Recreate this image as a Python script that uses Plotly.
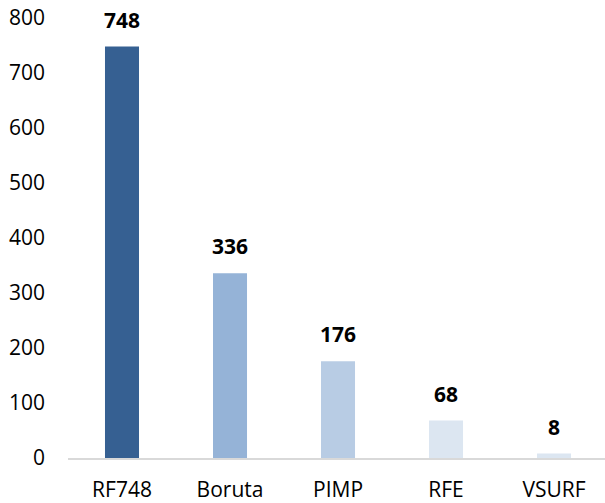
import plotly.graph_objects as go

categories = ["RF748", "Boruta", "PIMP", "RFE", "VSURF"]
values = [748, 336, 176, 68, 8]
colors = ["#366092", "#95B3D7", "#B8CCE4", "#DCE6F1", "#DCE6F1"]
y_ticks = [0, 100, 200, 300, 400, 500, 600, 700, 800]

fig = go.Figure()
fig.add_trace(go.Bar(
    x=list(range(len(categories))), y=values,
    marker=dict(color=colors, line=dict(width=0)),
    width=0.315,
))
for i, v in enumerate(values):
    fig.add_annotation(x=i, y=v, text=f"<b>{v}</b>", showarrow=False,
                       yanchor="bottom", yshift=11,
                       font=dict(family="Open Sans", size=21, color="#000000"))

fig.update_layout(
    width=605, height=503,
    margin=dict(l=68, r=0, t=18, b=45, autoexpand=False),
    paper_bgcolor="white", plot_bgcolor="white",
    showlegend=False,
    font=dict(family="Open Sans", size=21, color="#000000"),
)
fig.update_xaxes(
    tickmode="array", tickvals=list(range(len(categories))), ticktext=categories,
    range=[-0.5, 4.472], showgrid=False, zeroline=False,
    showline=True, linecolor="#D9D9D9", linewidth=2,
    ticks="", ticklabelstandoff=12, automargin=False,
)
fig.update_yaxes(
    range=[0, 800], tickvals=y_ticks, showgrid=False, zeroline=False,
    showline=False, ticks="", ticklabelstandoff=22, automargin=False,
    ticklabeloverflow="allow",
)
fig.write_html("out.html", config={"displayModeBar": False},
               post_script="document.body.style.margin='0';document.body.style.overflow='hidden';")
